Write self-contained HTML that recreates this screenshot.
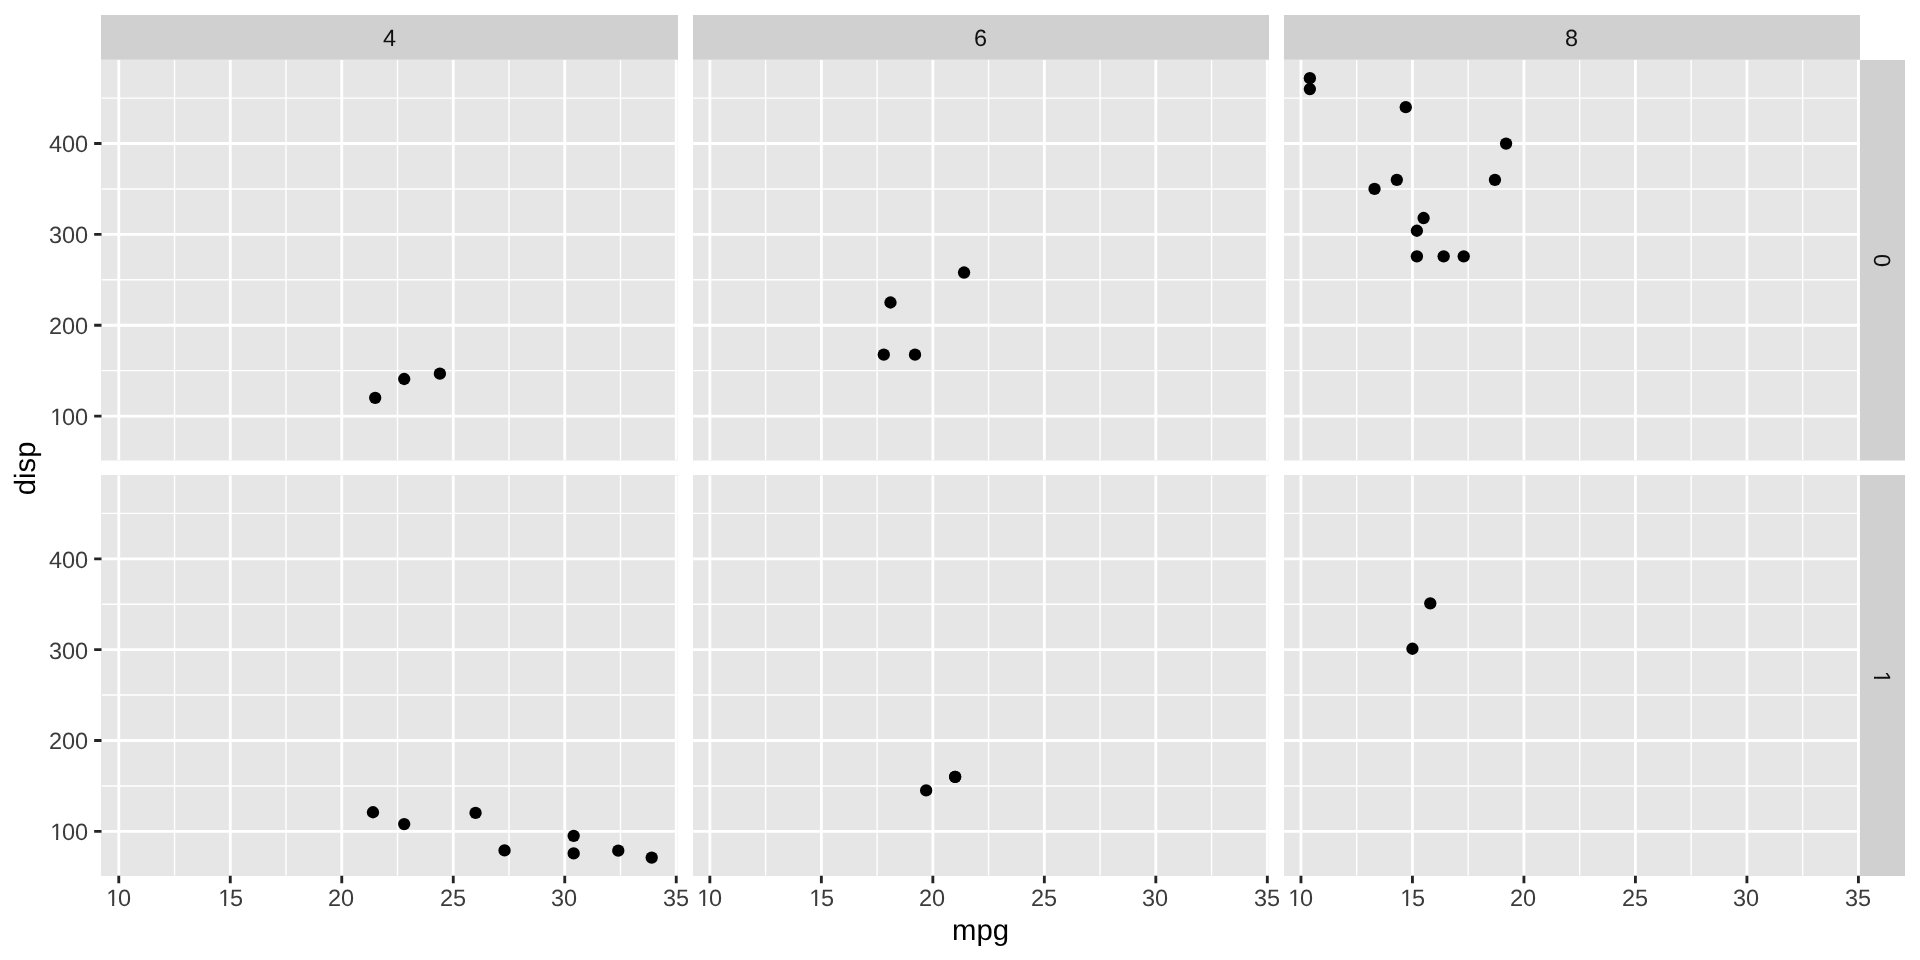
<!DOCTYPE html>
<html><head><meta charset="utf-8"><title>mpg vs disp</title>
<style>
html,body{margin:0;padding:0;background:#fff;}
body{width:1920px;height:960px;overflow:hidden;}
svg{display:block;will-change:transform;}
text{font-family:"Liberation Sans",sans-serif;text-rendering:geometricPrecision;}
.ax{font-size:23.47px;fill:#3b3b3b;}
.st{font-size:23.47px;fill:#101010;}
.ti{font-size:29.33px;fill:#000;}
</style></head><body>
<svg width="1920" height="960" viewBox="0 0 1920 960">
<rect x="0" y="0" width="1920" height="960" fill="#fff"/>
<defs>
<clipPath id="c00"><rect x="101.5" y="59.92" width="576.42" height="400.61"/></clipPath>
<clipPath id="c01"><rect x="692.58" y="59.92" width="576.42" height="400.61"/></clipPath>
<clipPath id="c02"><rect x="1283.66" y="59.92" width="576.42" height="400.61"/></clipPath>
<clipPath id="c10"><rect x="101.5" y="475.19" width="576.42" height="400.61"/></clipPath>
<clipPath id="c11"><rect x="692.58" y="475.19" width="576.42" height="400.61"/></clipPath>
<clipPath id="c12"><rect x="1283.66" y="475.19" width="576.42" height="400.61"/></clipPath>
</defs>
<rect x="101" y="15" width="577" height="45" fill="#d0d0d0"/>
<rect x="693" y="15" width="576" height="45" fill="#d0d0d0"/>
<rect x="1284" y="15" width="576" height="45" fill="#d0d0d0"/>
<rect x="1860" y="60" width="45" height="400.5" fill="#d0d0d0"/>
<rect x="1860" y="475" width="45" height="401" fill="#d0d0d0"/>
<rect x="101" y="59.5" width="577" height="401" fill="#e6e6e6"/>
<g clip-path="url(#c00)" stroke="#fff" fill="none">
<path d="M101.5 370.64H677.92M101.5 279.8H677.92M101.5 188.96H677.92M101.5 98.11H677.92M174.53 59.92V460.53M286.02 59.92V460.53M397.51 59.92V460.53M509 59.92V460.53M620.5 59.92V460.53" stroke-width="1.42"/>
<path d="M101.5 416.06H677.92M101.5 325.22H677.92M101.5 234.38H677.92M101.5 143.54H677.92M118.78 59.92V460.53M230.27 59.92V460.53M341.77 59.92V460.53M453.26 59.92V460.53M564.75 59.92V460.53M676.24 59.92V460.53" stroke-width="2.85"/>
</g>
<g fill="#000"><circle cx="375.21" cy="397.8" r="6.16"/><circle cx="404.2" cy="379" r="6.16"/><circle cx="439.88" cy="373.64" r="6.16"/></g>
<path d="M94.17 416.06H101.5M94.17 325.22H101.5M94.17 234.38H101.5M94.17 143.54H101.5" stroke="#242424" stroke-width="2.85" fill="none"/>
<rect x="693" y="59.5" width="576" height="401" fill="#e6e6e6"/>
<g clip-path="url(#c01)" stroke="#fff" fill="none">
<path d="M692.58 370.64H1269M692.58 279.8H1269M692.58 188.96H1269M692.58 98.11H1269M765.61 59.92V460.53M877.1 59.92V460.53M988.59 59.92V460.53M1100.09 59.92V460.53M1211.58 59.92V460.53" stroke-width="1.42"/>
<path d="M692.58 416.06H1269M692.58 325.22H1269M692.58 234.38H1269M692.58 143.54H1269M709.86 59.92V460.53M821.36 59.92V460.53M932.85 59.92V460.53M1044.34 59.92V460.53M1155.83 59.92V460.53M1267.33 59.92V460.53" stroke-width="2.85"/>
</g>
<g fill="#000"><circle cx="964.07" cy="272.53" r="6.16"/><circle cx="890.48" cy="302.51" r="6.16"/><circle cx="915.01" cy="354.65" r="6.16"/><circle cx="883.79" cy="354.65" r="6.16"/></g>
<rect x="1284" y="59.5" width="576" height="401" fill="#e6e6e6"/>
<g clip-path="url(#c02)" stroke="#fff" fill="none">
<path d="M1283.66 370.64H1860.08M1283.66 279.8H1860.08M1283.66 188.96H1860.08M1283.66 98.11H1860.08M1356.69 59.92V460.53M1468.18 59.92V460.53M1579.68 59.92V460.53M1691.17 59.92V460.53M1802.66 59.92V460.53" stroke-width="1.42"/>
<path d="M1283.66 416.06H1860.08M1283.66 325.22H1860.08M1283.66 234.38H1860.08M1283.66 143.54H1860.08M1300.95 59.92V460.53M1412.44 59.92V460.53M1523.93 59.92V460.53M1635.42 59.92V460.53M1746.92 59.92V460.53M1858.41 59.92V460.53" stroke-width="2.85"/>
</g>
<g fill="#000"><circle cx="1494.94" cy="179.87" r="6.16"/><circle cx="1396.83" cy="179.87" r="6.16"/><circle cx="1443.66" cy="256.36" r="6.16"/><circle cx="1463.72" cy="256.36" r="6.16"/><circle cx="1416.9" cy="256.36" r="6.16"/><circle cx="1309.87" cy="78.13" r="6.16"/><circle cx="1309.87" cy="89.03" r="6.16"/><circle cx="1405.75" cy="107.2" r="6.16"/><circle cx="1423.59" cy="218.03" r="6.16"/><circle cx="1416.9" cy="230.74" r="6.16"/><circle cx="1374.53" cy="188.96" r="6.16"/><circle cx="1506.09" cy="143.54" r="6.16"/></g>
<rect x="101" y="475" width="577" height="401" fill="#e6e6e6"/>
<g clip-path="url(#c10)" stroke="#fff" fill="none">
<path d="M101.5 785.92H677.92M101.5 695.07H677.92M101.5 604.23H677.92M101.5 513.39H677.92M174.53 475.19V875.8M286.02 475.19V875.8M397.51 475.19V875.8M509 475.19V875.8M620.5 475.19V875.8" stroke-width="1.42"/>
<path d="M101.5 831.34H677.92M101.5 740.49H677.92M101.5 649.65H677.92M101.5 558.81H677.92M118.78 475.19V875.8M230.27 475.19V875.8M341.77 475.19V875.8M453.26 475.19V875.8M564.75 475.19V875.8M676.24 475.19V875.8" stroke-width="2.85"/>
</g>
<g fill="#000"><circle cx="404.2" cy="824.07" r="6.16"/><circle cx="618.27" cy="850.69" r="6.16"/><circle cx="573.67" cy="853.41" r="6.16"/><circle cx="651.71" cy="857.59" r="6.16"/><circle cx="504.54" cy="850.41" r="6.16"/><circle cx="475.56" cy="812.9" r="6.16"/><circle cx="573.67" cy="835.79" r="6.16"/><circle cx="372.98" cy="812.26" r="6.16"/></g>
<path d="M118.78 875.8V883.13M230.27 875.8V883.13M341.77 875.8V883.13M453.26 875.8V883.13M564.75 875.8V883.13M676.24 875.8V883.13" stroke="#242424" stroke-width="2.85" fill="none"/>
<path d="M94.17 831.34H101.5M94.17 740.49H101.5M94.17 649.65H101.5M94.17 558.81H101.5" stroke="#242424" stroke-width="2.85" fill="none"/>
<rect x="693" y="475" width="576" height="401" fill="#e6e6e6"/>
<g clip-path="url(#c11)" stroke="#fff" fill="none">
<path d="M692.58 785.92H1269M692.58 695.07H1269M692.58 604.23H1269M692.58 513.39H1269M765.61 475.19V875.8M877.1 475.19V875.8M988.59 475.19V875.8M1100.09 475.19V875.8M1211.58 475.19V875.8" stroke-width="1.42"/>
<path d="M692.58 831.34H1269M692.58 740.49H1269M692.58 649.65H1269M692.58 558.81H1269M709.86 475.19V875.8M821.36 475.19V875.8M932.85 475.19V875.8M1044.34 475.19V875.8M1155.83 475.19V875.8M1267.33 475.19V875.8" stroke-width="2.85"/>
</g>
<g fill="#000"><circle cx="955.15" cy="776.83" r="6.16"/><circle cx="955.15" cy="776.83" r="6.16"/><circle cx="926.16" cy="790.46" r="6.16"/></g>
<path d="M709.86 875.8V883.13M821.36 875.8V883.13M932.85 875.8V883.13M1044.34 875.8V883.13M1155.83 875.8V883.13M1267.33 875.8V883.13" stroke="#242424" stroke-width="2.85" fill="none"/>
<rect x="1284" y="475" width="576" height="401" fill="#e6e6e6"/>
<g clip-path="url(#c12)" stroke="#fff" fill="none">
<path d="M1283.66 785.92H1860.08M1283.66 695.07H1860.08M1283.66 604.23H1860.08M1283.66 513.39H1860.08M1356.69 475.19V875.8M1468.18 475.19V875.8M1579.68 475.19V875.8M1691.17 475.19V875.8M1802.66 475.19V875.8" stroke-width="1.42"/>
<path d="M1283.66 831.34H1860.08M1283.66 740.49H1860.08M1283.66 649.65H1860.08M1283.66 558.81H1860.08M1300.95 475.19V875.8M1412.44 475.19V875.8M1523.93 475.19V875.8M1635.42 475.19V875.8M1746.92 475.19V875.8M1858.41 475.19V875.8" stroke-width="2.85"/>
</g>
<g fill="#000"><circle cx="1430.28" cy="603.32" r="6.16"/><circle cx="1412.44" cy="648.74" r="6.16"/></g>
<path d="M1300.95 875.8V883.13M1412.44 875.8V883.13M1523.93 875.8V883.13M1635.42 875.8V883.13M1746.92 875.8V883.13M1858.41 875.8V883.13" stroke="#242424" stroke-width="2.85" fill="none"/>
<text class="ax" x="106.2 118.051" y="906">10</text>
<rect x="106.987" y="903.547" width="5.114" height="3.153" fill="#fff"/><rect x="114.175" y="903.547" width="4.93" height="3.153" fill="#fff"/>
<text class="ax" x="218.2 230.051" y="906">15</text>
<rect x="218.987" y="903.547" width="5.114" height="3.153" fill="#fff"/><rect x="226.175" y="903.547" width="4.93" height="3.153" fill="#fff"/>
<text class="ax" x="328" y="906">20</text>
<text class="ax" x="440" y="906">25</text>
<text class="ax" x="551" y="906">30</text>
<text class="ax" x="663" y="906">35</text>
<text class="ax" x="697.2 709.051" y="906">10</text>
<rect x="697.988" y="903.547" width="5.114" height="3.153" fill="#fff"/><rect x="705.175" y="903.547" width="4.93" height="3.153" fill="#fff"/>
<text class="ax" x="809.2 821.051" y="906">15</text>
<rect x="809.988" y="903.547" width="5.114" height="3.153" fill="#fff"/><rect x="817.175" y="903.547" width="4.93" height="3.153" fill="#fff"/>
<text class="ax" x="919" y="906">20</text>
<text class="ax" x="1031" y="906">25</text>
<text class="ax" x="1142" y="906">30</text>
<text class="ax" x="1254" y="906">35</text>
<text class="ax" x="1288.2 1300.051" y="906">10</text>
<rect x="1288.987" y="903.547" width="5.114" height="3.153" fill="#fff"/><rect x="1296.175" y="903.547" width="4.93" height="3.153" fill="#fff"/>
<text class="ax" x="1400.2 1412.051" y="906">15</text>
<rect x="1400.987" y="903.547" width="5.114" height="3.153" fill="#fff"/><rect x="1408.175" y="903.547" width="4.93" height="3.153" fill="#fff"/>
<text class="ax" x="1510" y="906">20</text>
<text class="ax" x="1622" y="906">25</text>
<text class="ax" x="1733" y="906">30</text>
<text class="ax" x="1845" y="906">35</text>
<text class="ax" x="50.2 62.051 75.102" y="425">100</text>
<rect x="50.988" y="422.547" width="5.114" height="3.153" fill="#fff"/><rect x="58.175" y="422.547" width="4.93" height="3.153" fill="#fff"/>
<text class="ax" x="49" y="334">200</text>
<text class="ax" x="49" y="243">300</text>
<text class="ax" x="49" y="152">400</text>
<text class="ax" x="50.2 62.051 75.102" y="840">100</text>
<rect x="50.988" y="837.547" width="5.114" height="3.153" fill="#fff"/><rect x="58.175" y="837.547" width="4.93" height="3.153" fill="#fff"/>
<text class="ax" x="49" y="749">200</text>
<text class="ax" x="49" y="659">300</text>
<text class="ax" x="49" y="568">400</text>
<text class="st" x="383" y="46">4</text>
<text class="st" x="974" y="46">6</text>
<text class="st" x="1565" y="46">8</text>
<g transform="translate(1874 254) rotate(90)"><text class="st" x="0" y="0">0</text></g>
<g transform="translate(1874 669.6) rotate(90)"><text class="st" x="1.2" y="0">1</text><rect x="1.987" y="-2.453" width="5.114" height="3.153" fill="#d0d0d0"/><rect x="9.175" y="-2.453" width="4.93" height="3.153" fill="#d0d0d0"/></g>
<text class="ti" x="952" y="940">mpg</text>
<text class="ti" transform="translate(35.3 495.3) rotate(-90)" x="0" y="0">disp</text>
</svg>
</body></html>
